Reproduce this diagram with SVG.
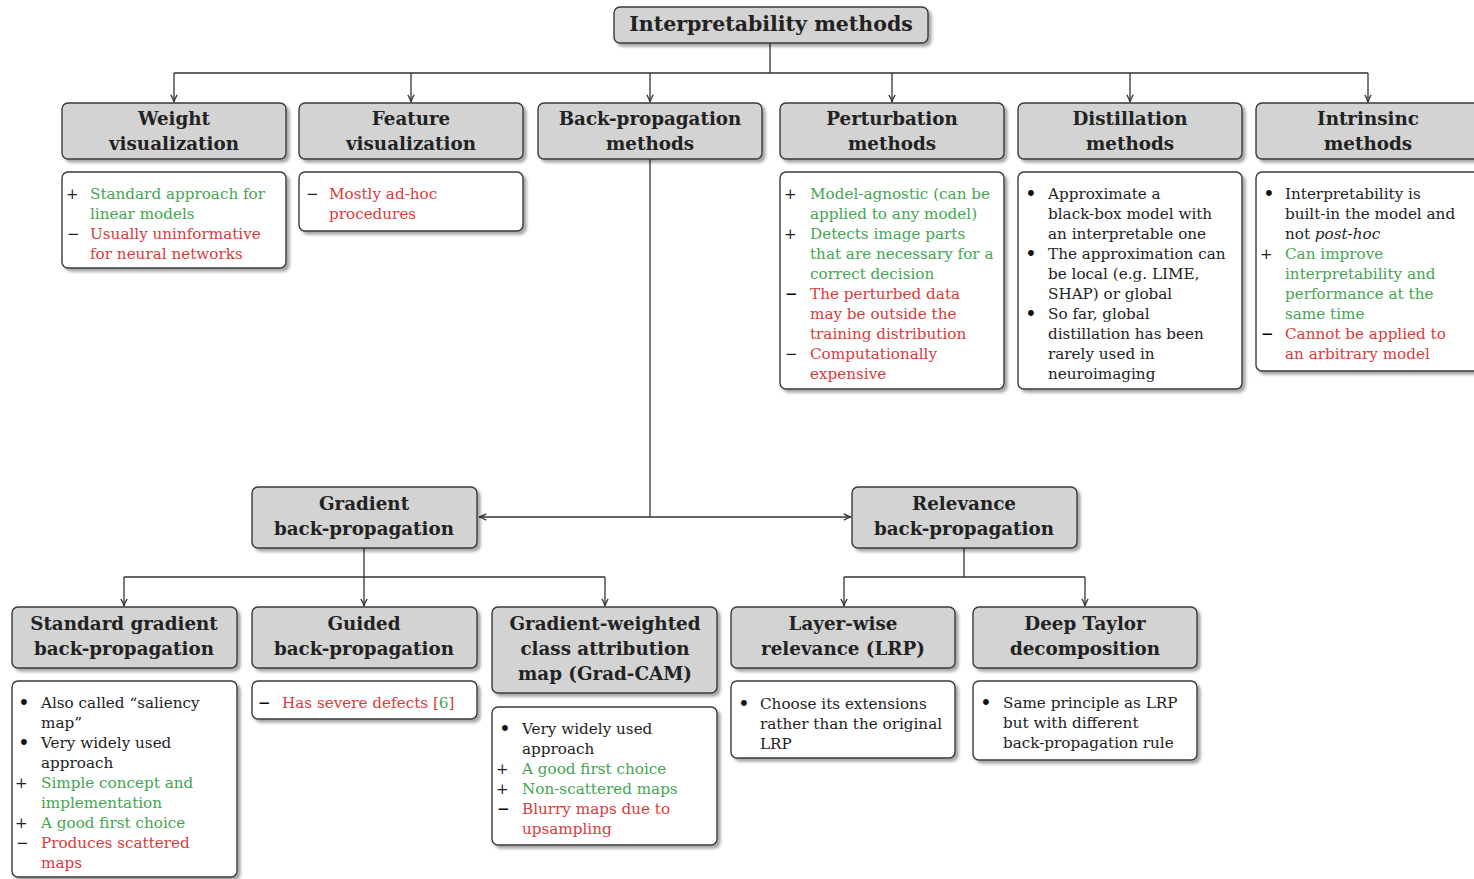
<svg xmlns="http://www.w3.org/2000/svg" width="1474" height="879" viewBox="0 0 1474 879">
<style>
.hb{fill:#d3d3d3;stroke:#3a3a3a;stroke-width:1.4;filter:url(#sh)}
.db{fill:#fff;stroke:#3a3a3a;stroke-width:1.4;filter:url(#sh)}
.t{font-family:"DejaVu Serif",serif;font-weight:bold;font-size:18.3px;fill:#222;text-anchor:middle}
.tt{font-size:20.5px}
.b{font-family:"DejaVu Serif",serif;font-size:15.2px;fill:#222}
.bu{font-family:"DejaVu Serif",serif;font-size:20px;fill:#111}
.m{font-family:"DejaVu Serif",serif;font-size:15px;fill:#222}
.mb{font-weight:bold;fill:#000}
.g{fill:#45a552}
.r{fill:#d93a3a}
.c{fill:none;stroke:#333;stroke-width:1.3}
.a{fill:none;stroke:#333;stroke-width:1.3;marker-end:url(#ar)}
</style>
<defs>
<filter id="sh" x="-10%" y="-10%" width="130%" height="140%">
<feGaussianBlur in="SourceAlpha" stdDeviation="1.5"/>
<feOffset dx="3" dy="3" result="o"/>
<feComponentTransfer><feFuncA type="linear" slope="0.35"/></feComponentTransfer>
<feMerge><feMergeNode/><feMergeNode in="SourceGraphic"/></feMerge>
</filter>
<marker id="ar" viewBox="0 0 10 10" refX="9" refY="5" markerWidth="9" markerHeight="9" markerUnits="userSpaceOnUse" orient="auto">
<path d="M1,1.5 Q5,4 9,5 Q5,6 1,8.5" fill="none" stroke="#333" stroke-width="1.4"/>
</marker>
</defs>

<g id="connectors">
<path class="c" d="M770,43 V73 M174,73 H1368"/>
<path class="a" d="M174,73 V102"/>
<path class="a" d="M411,73 V102"/>
<path class="a" d="M650,73 V102"/>
<path class="a" d="M892,73 V102"/>
<path class="a" d="M1130,73 V102"/>
<path class="a" d="M1368,73 V102"/>
<path class="c" d="M650,159 V517"/>
<path class="a" d="M650,517 H479"/>
<path class="a" d="M650,517 H851"/>
<path class="c" d="M364,548 V577 M124,577 H605"/>
<path class="a" d="M124,577 V606"/>
<path class="a" d="M364,577 V606"/>
<path class="a" d="M605,577 V606"/>
<path class="c" d="M964,548 V577 M844,577 H1085"/>
<path class="a" d="M844,577 V606"/>
<path class="a" d="M1085,577 V606"/>
</g>

<g id="root">
<rect class="hb" x="614" y="7" width="314" height="36" rx="6"/>
<text class="t tt" x="771" y="31">Interpretability methods</text>
</g>

<g id="weight">
<rect class="hb" x="62" y="103" width="224" height="56" rx="6"/>
<text class="t" x="174" y="125">Weight</text>
<text class="t" x="174" y="150">visualization</text>
</g>
<g id="weight-details">
<rect class="db" x="62" y="172" width="224" height="96" rx="6"/>
<text class="m" x="66" y="199">+</text><text class="b g" x="90" y="199">Standard approach for</text>
<text class="b g" x="90" y="219">linear models</text>
<text class="m" x="67" y="239">−</text><text class="b r" x="90" y="239">Usually uninformative</text>
<text class="b r" x="90" y="259">for neural networks</text>
</g>

<g id="feature">
<rect class="hb" x="299" y="103" width="224" height="56" rx="6"/>
<text class="t" x="411" y="125">Feature</text>
<text class="t" x="411" y="150">visualization</text>
</g>
<g id="feature-details">
<rect class="db" x="299" y="172" width="224" height="59" rx="6"/>
<text class="m" x="306" y="199">−</text><text class="b r" x="329" y="199">Mostly ad-hoc</text>
<text class="b r" x="329" y="219">procedures</text>
</g>

<g id="backprop">
<rect class="hb" x="538" y="103" width="224" height="56" rx="6"/>
<text class="t" x="650" y="125">Back-propagation</text>
<text class="t" x="650" y="150">methods</text>
</g>

<g id="perturbation">
<rect class="hb" x="780" y="103" width="224" height="56" rx="6"/>
<text class="t" x="892" y="125">Perturbation</text>
<text class="t" x="892" y="150">methods</text>
</g>
<g id="perturbation-details">
<rect class="db" x="780" y="172" width="224" height="217" rx="6"/>
<text class="m" x="784" y="199">+</text><text class="b g" x="810" y="199">Model-agnostic (can be</text>
<text class="b g" x="810" y="219">applied to any model)</text>
<text class="m" x="784" y="239">+</text><text class="b g" x="810" y="239">Detects image parts</text>
<text class="b g" x="810" y="259">that are necessary for a</text>
<text class="b g" x="810" y="279">correct decision</text>
<text class="m mb" x="785" y="299">−</text><text class="b r" x="810" y="299">The perturbed data</text>
<text class="b r" x="810" y="319">may be outside the</text>
<text class="b r" x="810" y="339">training distribution</text>
<text class="m" x="785" y="359">−</text><text class="b r" x="810" y="359">Computationally</text>
<text class="b r" x="810" y="379">expensive</text>
</g>

<g id="distillation">
<rect class="hb" x="1018" y="103" width="224" height="56" rx="6"/>
<text class="t" x="1130" y="125">Distillation</text>
<text class="t" x="1130" y="150">methods</text>
</g>
<g id="distillation-details">
<rect class="db" x="1018" y="172" width="224" height="217" rx="6"/>
<text class="bu" x="1025" y="201">•</text><text class="b" x="1048" y="199">Approximate a</text>
<text class="b" x="1048" y="219">black-box model with</text>
<text class="b" x="1048" y="239">an interpretable one</text>
<text class="bu" x="1025" y="261">•</text><text class="b" x="1048" y="259">The approximation can</text>
<text class="b" x="1048" y="279">be local (e.g. LIME,</text>
<text class="b" x="1048" y="299">SHAP) or global</text>
<text class="bu" x="1025" y="321">•</text><text class="b" x="1048" y="319">So far, global</text>
<text class="b" x="1048" y="339">distillation has been</text>
<text class="b" x="1048" y="359">rarely used in</text>
<text class="b" x="1048" y="379">neuroimaging</text>
</g>

<g id="intrinsic">
<rect class="hb" x="1256" y="103" width="224" height="56" rx="6"/>
<text class="t" x="1368" y="125">Intrinsinc</text>
<text class="t" x="1368" y="150">methods</text>
</g>
<g id="intrinsic-details">
<rect class="db" x="1256" y="172" width="224" height="199" rx="6"/>
<text class="bu" x="1263" y="201">•</text><text class="b" x="1285" y="199">Interpretability is</text>
<text class="b" x="1285" y="219">built-in the model and</text>
<text class="b" x="1285" y="239">not <tspan font-style="italic">post-hoc</tspan></text>
<text class="m" x="1260" y="259">+</text><text class="b g" x="1285" y="259">Can improve</text>
<text class="b g" x="1285" y="279">interpretability and</text>
<text class="b g" x="1285" y="299">performance at the</text>
<text class="b g" x="1285" y="319">same time</text>
<text class="m mb" x="1261" y="339">−</text><text class="b r" x="1285" y="339">Cannot be applied to</text>
<text class="b r" x="1285" y="359">an arbitrary model</text>
</g>

<g id="gradient">
<rect class="hb" x="252" y="487" width="225" height="61" rx="6"/>
<text class="t" x="364" y="510">Gradient</text>
<text class="t" x="364" y="535">back-propagation</text>
</g>

<g id="relevance">
<rect class="hb" x="852" y="487" width="225" height="61" rx="6"/>
<text class="t" x="964" y="510">Relevance</text>
<text class="t" x="964" y="535">back-propagation</text>
</g>

<g id="standard">
<rect class="hb" x="12" y="607" width="225" height="61" rx="6"/>
<text class="t" x="124" y="630">Standard gradient</text>
<text class="t" x="124" y="655">back-propagation</text>
</g>
<g id="standard-details">
<rect class="db" x="12" y="681" width="225" height="196" rx="6"/>
<text class="bu" x="18" y="710">•</text><text class="b" x="41" y="708">Also called “saliency</text>
<text class="b" x="41" y="728">map”</text>
<text class="bu" x="18" y="750">•</text><text class="b" x="41" y="748">Very widely used</text>
<text class="b" x="41" y="768">approach</text>
<text class="m" x="15" y="788">+</text><text class="b g" x="41" y="788">Simple concept and</text>
<text class="b g" x="41" y="808">implementation</text>
<text class="m" x="15" y="828">+</text><text class="b g" x="41" y="828">A good first choice</text>
<text class="m" x="16" y="848">−</text><text class="b r" x="41" y="848">Produces scattered</text>
<text class="b r" x="41" y="868">maps</text>
</g>

<g id="guided">
<rect class="hb" x="252" y="607" width="225" height="61" rx="6"/>
<text class="t" x="364" y="630">Guided</text>
<text class="t" x="364" y="655">back-propagation</text>
</g>
<g id="guided-details">
<rect class="db" x="252" y="681" width="225" height="38" rx="6"/>
<text class="m mb" x="258" y="708">−</text><text class="b r" x="282" y="708">Has severe defects [<tspan class="g">6</tspan>]</text>
</g>

<g id="gradcam">
<rect class="hb" x="492" y="607" width="225" height="86" rx="6"/>
<text class="t" x="605" y="630">Gradient-weighted</text>
<text class="t" x="605" y="655">class attribution</text>
<text class="t" x="605" y="680">map (Grad-CAM)</text>
</g>
<g id="gradcam-details">
<rect class="db" x="492" y="707" width="225" height="138" rx="6"/>
<text class="bu" x="499" y="736">•</text><text class="b" x="522" y="734">Very widely used</text>
<text class="b" x="522" y="754">approach</text>
<text class="m" x="496" y="774">+</text><text class="b g" x="522" y="774">A good first choice</text>
<text class="m" x="496" y="794">+</text><text class="b g" x="522" y="794">Non-scattered maps</text>
<text class="m mb" x="497" y="814">−</text><text class="b r" x="522" y="814">Blurry maps due to</text>
<text class="b r" x="522" y="834">upsampling</text>
</g>

<g id="lrp">
<rect class="hb" x="731" y="607" width="224" height="61" rx="6"/>
<text class="t" x="843" y="630">Layer-wise</text>
<text class="t" x="843" y="655">relevance (LRP)</text>
</g>
<g id="lrp-details">
<rect class="db" x="731" y="681" width="224" height="77" rx="6"/>
<text class="bu" x="738" y="711">•</text><text class="b" x="760" y="709">Choose its extensions</text>
<text class="b" x="760" y="729">rather than the original</text>
<text class="b" x="760" y="749">LRP</text>
</g>

<g id="deeptaylor">
<rect class="hb" x="973" y="607" width="224" height="61" rx="6"/>
<text class="t" x="1085" y="630">Deep Taylor</text>
<text class="t" x="1085" y="655">decomposition</text>
</g>
<g id="deeptaylor-details">
<rect class="db" x="973" y="681" width="224" height="79" rx="6"/>
<text class="bu" x="980" y="710">•</text><text class="b" x="1003" y="708">Same principle as LRP</text>
<text class="b" x="1003" y="728">but with different</text>
<text class="b" x="1003" y="748">back-propagation rule</text>
</g>
</svg>
